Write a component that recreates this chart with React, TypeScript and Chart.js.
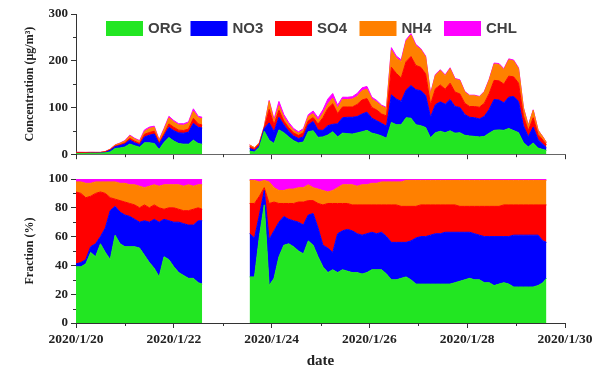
import React, { useEffect, useRef } from 'react';
import { Chart, registerables } from 'chart.js';

Chart.register(...registerables);

// ---- Data (x = days after 2020/1/20) ----
const dayA = [0, 0.1, 0.2, 0.3, 0.4, 0.5, 0.6, 0.7, 0.8, 0.9, 1.0, 1.1, 1.2, 1.3, 1.4, 1.5, 1.6, 1.7, 1.8, 1.9, 2.0, 2.1, 2.2, 2.3, 2.4, 2.5, 2.58];
const dayB = [3.55, 3.65, 3.75, 3.85, 3.95, 4.05, 4.15, 4.25, 4.35, 4.45, 4.55, 4.65, 4.75, 4.85, 4.95, 5.05, 5.15, 5.25, 5.35, 5.45, 5.55, 5.65, 5.75, 5.85, 5.95, 6.05, 6.15, 6.25, 6.35, 6.45, 6.55, 6.65, 6.75, 6.85, 6.95, 7.05, 7.15, 7.25, 7.35, 7.45, 7.55, 7.65, 7.75, 7.85, 7.95, 8.05, 8.15, 8.25, 8.35, 8.45, 8.55, 8.65, 8.75, 8.85, 8.95, 9.05, 9.15, 9.25, 9.35, 9.45, 9.55, 9.62];

// Concentration (ug/m3), first period
const concOrgA = [1.6, 1.6, 1.6, 2.0, 1.8, 2.2, 2.9, 4.8, 12.2, 13.2, 15.4, 21.7, 18.0, 15.1, 24.4, 24.4, 22.8, 9.9, 25.3, 35.6, 28.1, 22.8, 21.5, 21.4, 30.1, 22.7, 21.3];
const concNo3A = [0.1, 0.1, 0.1, 0.2, 0.4, 0.2, 1.0, 3.7, 4.0, 5.3, 6.4, 8.6, 6.5, 5.2, 12.5, 16.2, 20.4, 11.8, 14.3, 21.9, 22.3, 22.8, 23.4, 25.5, 35.9, 34.8, 34.8];
const concSo4A = [2.0, 1.9, 1.7, 1.4, 1.4, 1.2, 1.4, 1.0, 1.0, 1.9, 2.6, 3.7, 3.4, 2.9, 5.7, 5.8, 6.0, 3.1, 3.9, 7.3, 7.2, 5.9, 5.9, 6.9, 10.7, 7.3, 6.3];
const concNh4A = [0.3, 0.3, 0.4, 0.4, 0.3, 0.3, 0.5, 1.2, 2.4, 2.9, 3.8, 5.3, 4.8, 4.4, 6.2, 8.7, 8.4, 4.7, 9.4, 13.0, 11.5, 11.1, 11.1, 12.4, 15.5, 13.0, 13.4];
const concChlA = [0.1, 0.1, 0.1, 0.1, 0.1, 0.1, 0.1, 0.2, 0.4, 0.7, 0.9, 1.6, 1.4, 1.5, 3.1, 2.9, 2.4, 1.6, 2.2, 3.2, 2.9, 2.6, 3.3, 2.8, 4.9, 3.2, 3.2];

// Concentration (ug/m3), second period
const concOrgB = [6.4, 4.5, 15, 49, 30, 23, 52, 46, 37, 29, 24, 26, 48, 50, 36, 37, 41, 48, 37, 45, 44, 43, 45.5, 48, 51, 45, 42.5, 39, 34, 68, 63, 63, 78, 77, 63, 61, 57, 35, 46, 49, 46, 50, 45, 46, 40.5, 39, 38, 37, 38, 45, 51, 52, 51, 55, 50.5, 46, 25, 15.5, 24, 13, 10, 8];
const concNo3B = [6, 3.8, 3.8, 6, 37, 25, 27, 17, 12, 10, 9.6, 11, 15, 20, 15.6, 14, 20, 16, 28, 33, 35, 36, 35, 38, 39, 32, 29, 27, 26, 59, 55, 50, 59, 70, 75, 75, 69, 44, 60, 63, 61, 67, 57, 54, 44.5, 40, 40, 38.5, 43, 51, 66, 64, 59, 67, 73, 67, 36, 22, 34, 18, 11, 6];
const concSo4B = [4.2, 3.4, 3.3, 1.2, 29, 15, 15, 8, 7.5, 6.5, 6.7, 8.8, 8.5, 8.4, 13, 27, 37, 44, 22, 23, 22, 22, 26, 30, 29, 23, 23, 20, 22, 59, 55, 50, 61, 62, 52, 50, 46, 27, 34, 36, 32, 35, 31, 29, 24, 23, 24, 25, 28, 34, 41, 41, 40, 45, 42, 39, 21, 13, 20, 11, 9, 6.5];
const concNh4B = [3.2, 2.2, 2.5, 3, 17, 7.5, 10, 8, 7, 5.5, 4.8, 5.5, 9.5, 8.4, 7.8, 9.5, 9.4, 12, 11.5, 16, 16, 17, 17, 20, 20, 18, 17, 17, 16, 37, 33, 35, 44, 46, 42, 38, 36, 22, 29, 31, 29, 31, 27.5, 28.6, 24, 23, 23, 22, 24, 29, 35, 35, 31, 35, 34, 31, 17, 10.5, 16, 9, 6.5, 4.4];
const concChlB = [0.2, 0.1, 0.5, 0.6, 2, 4.5, 9, 6, 4.5, 4, 2.9, 3.3, 3.4, 5.6, 5.5, 7.5, 10.6, 10, 6.5, 5, 4.8, 5, 6.5, 6, 6, 4, 3.5, 2, 2, 5, 4, 4, 3, 3, 3, 2, 2, 2, 1.7, 1.8, 1.7, 1.9, 1.6, 1.6, 1.4, 1.3, 1.3, 1.2, 1.4, 1.6, 2, 2, 2, 2, 2, 2, 1, 0.6, 1, 0.5, 0.4, 0.3];

// Fraction (%), first period
const fracOrgA = [39, 39, 41, 49, 46, 55, 49, 44, 61, 55, 53, 53, 53, 52, 47, 42, 38, 32, 46, 44, 39, 35, 33, 31, 31, 28, 27];
const fracNo3A = [2, 3, 3, 4, 9, 5, 17, 34, 20, 22, 22, 21, 19, 18, 24, 28, 34, 38, 26, 27, 31, 35, 36, 37, 37, 43, 44];
const fracSo4A = [50, 48, 43, 35, 35, 31, 24, 9, 5, 8, 9, 9, 10, 10, 11, 10, 10, 10, 7, 9, 10, 9, 9, 10, 11, 9, 8];
const fracNh4A = [7, 8, 10, 9, 8, 7, 8, 11, 12, 12, 13, 13, 14, 15, 12, 15, 14, 15, 17, 16, 16, 17, 17, 18, 16, 16, 17];
const fracChlA = [2, 2, 3, 3, 2, 2, 2, 2, 2, 3, 3, 4, 4, 5, 6, 5, 4, 5, 4, 4, 4, 4, 5, 4, 5, 4, 4];

// Fraction (%), second period
const fracOrgB = [32, 32, 60, 82, 26, 31, 46, 54, 55, 53, 50, 48, 57, 54, 46, 39, 35, 37, 35, 37, 36, 35, 35, 34, 35, 37, 37, 37, 34, 30, 30, 31, 32, 30, 27, 27, 27, 27, 27, 27, 27, 27, 28, 29, 30, 31, 30, 30, 28, 28, 26, 27, 28, 27, 25, 25, 25, 25, 25, 26, 28, 31];
const fracNo3B = [30, 27, 15, 10, 32, 33, 24, 20, 17, 18, 20, 20, 18, 22, 20, 15, 17, 12, 27, 27, 29, 29, 27, 27, 27, 26, 25, 26, 26, 26, 26, 25, 24, 27, 32, 33, 33, 34, 35, 35, 36, 36, 35, 34, 33, 32, 32, 31, 32, 32, 34, 33, 32, 33, 36, 36, 36, 36, 36, 35, 29, 25];
const fracSo4B = [21, 24, 13, 2, 25, 20, 13, 9, 11, 12, 14, 16, 10, 9, 17, 28, 31, 34, 21, 19, 18, 18, 20, 21, 20, 19, 20, 19, 22, 26, 26, 25, 25, 24, 22, 22, 22, 21, 20, 20, 19, 19, 19, 18, 18, 18, 19, 20, 21, 21, 21, 21, 22, 22, 21, 21, 21, 21, 21, 21, 25, 26];
const fracNh4B = [16, 16, 10, 5, 15, 10, 9, 9, 10, 10, 10, 10, 11, 9, 10, 10, 8, 9, 11, 13, 13, 14, 13, 14, 14, 15, 15, 16, 16, 16, 16, 17, 18, 18, 18, 17, 17, 17, 17, 17, 17, 17, 17, 18, 18, 18, 18, 18, 18, 18, 18, 18, 17, 17, 17, 17, 17, 17, 17, 17, 17, 17];
const fracChlB = [1, 1, 2, 1, 2, 6, 8, 8, 7, 7, 6, 6, 4, 6, 7, 8, 9, 8, 6, 4, 4, 4, 5, 4, 4, 3, 3, 2, 2, 2, 2, 2, 1, 1, 1, 1, 1, 1, 1, 1, 1, 1, 1, 1, 1, 1, 1, 1, 1, 1, 1, 1, 1, 1, 1, 1, 1, 1, 1, 1, 1, 1];

const seriesNames = ['ORG', 'NO3', 'SO4', 'NH4', 'CHL'];
const seriesColors = ['#22e622', '#0000ff', '#ff0000', '#ff8000', '#ff00ff'];
const concTicks = [0, 100, 200, 300];
const concMinor = [50, 150, 250];
const fracTicks = [0, 20, 40, 60, 80, 100];
const fracMinor = [10, 30, 50, 70, 90];
const dayMajor = [0, 2, 4, 6, 8, 10];
const dayMinor = [1, 3, 5, 7, 9];

const SERIF = '"Liberation Serif", "Times New Roman", serif';
const AXIS_COLOR = '#333';

function buildDatasets(partsA: number[][], partsB: number[][]) {
  const out: any[] = [];
  const periods: [string, number[], number[][]][] = [
    ['A', dayA, partsA],
    ['B', dayB, partsB],
  ];
  periods.forEach(([stack, days, parts]) => {
    parts.forEach((vals, i) => {
      out.push({
        label: seriesNames[i],
        stack,
        data: days.map((d, k) => ({ x: d, y: vals[k] })),
        backgroundColor: seriesColors[i],
        borderColor: seriesColors[i],
        borderWidth: 1,
        fill: 'stack',
        pointRadius: 0,
        tension: 0,
      });
    });
  });
  return out;
}

const minorTicksPlugin = {
  id: 'minorTicks',
  afterDraw(chart: any, _args: any, opts: any) {
    const { ctx, chartArea } = chart;
    const xs = chart.scales.x;
    const ys = chart.scales.y;
    ctx.save();
    ctx.strokeStyle = AXIS_COLOR;
    ctx.lineWidth = 1;
    ctx.beginPath();
    (opts.x || []).forEach((v: number) => {
      const px = Math.round(xs.getPixelForValue(v)) + 0.5;
      ctx.moveTo(px, chartArea.bottom);
      ctx.lineTo(px, chartArea.bottom + 3);
    });
    (opts.y || []).forEach((v: number) => {
      const py = Math.round(ys.getPixelForValue(v)) + 0.5;
      ctx.moveTo(chartArea.left - 3, py);
      ctx.lineTo(chartArea.left, py);
    });
    ctx.stroke();
    ctx.restore();
  },
};

const legendPlugin = {
  id: 'insideLegend',
  afterDraw(chart: any, _args: any, opts: any) {
    if (!opts || !opts.show) return;
    const { ctx, chartArea } = chart;
    ctx.save();
    ctx.font = 'bold 15px "Liberation Sans", Arial, sans-serif';
    ctx.textBaseline = 'middle';
    ctx.textAlign = 'left';
    let x = chartArea.left + 30;
    const y = chartArea.top + 7;
    seriesNames.forEach((name, i) => {
      ctx.fillStyle = seriesColors[i];
      ctx.fillRect(x, y, 37, 15);
      ctx.fillStyle = '#404040';
      ctx.fillText(name, x + 42, y + 8);
      x += 84.5;
    });
    ctx.restore();
  },
};

function makeConfig(kind: 'conc' | 'frac'): any {
  const isConc = kind === 'conc';
  const datasets = isConc
    ? buildDatasets(
        [concOrgA, concNo3A, concSo4A, concNh4A, concChlA],
        [concOrgB, concNo3B, concSo4B, concNh4B, concChlB]
      )
    : buildDatasets(
        [fracOrgA, fracNo3A, fracSo4A, fracNh4A, fracChlA],
        [fracOrgB, fracNo3B, fracSo4B, fracNh4B, fracChlB]
      );
  const yTicks = isConc ? concTicks : fracTicks;
  return {
    type: 'line',
    data: { datasets },
    options: {
      animation: false,
      responsive: false,
      devicePixelRatio: 1,
      events: [],
      layout: { padding: { left: 0, right: 35, top: 14, bottom: 0 } },
      plugins: {
        legend: { display: false },
        tooltip: { enabled: false },
        minorTicks: { x: dayMinor, y: isConc ? concMinor : fracMinor },
        insideLegend: { show: isConc },
      },
      scales: {
        x: {
          type: 'linear',
          min: 0,
          max: 10,
          afterBuildTicks: (scale: any) => {
            scale.ticks = dayMajor.map((v) => ({ value: v }));
          },
          afterFit: (scale: any) => {
            scale.height = isConc ? 7 : 47;
          },
          ticks: {
            autoSkip: false,
            maxRotation: 0,
            padding: 3,
            color: '#222',
            font: { family: SERIF, size: 13.5, weight: 'bold' },
            callback: (v: number) => (isConc ? '' : '2020/1/' + (20 + v)),
          },
          grid: { drawOnChartArea: false, tickLength: 5, color: AXIS_COLOR },
          border: { display: true, color: isConc ? '#666' : AXIS_COLOR, width: 1 },
          title: {
            display: !isConc,
            text: 'date',
            color: '#222',
            font: { family: SERIF, size: 15, weight: 'bold' },
            padding: { top: 0, bottom: 0 },
          },
        },
        y: {
          type: 'linear',
          stacked: true,
          min: 0,
          max: isConc ? 300 : 100,
          afterBuildTicks: (scale: any) => {
            scale.ticks = yTicks.map((v) => ({ value: v }));
          },
          afterFit: (scale: any) => {
            scale.width = 76;
          },
          ticks: {
            padding: 3,
            color: '#222',
            font: { family: SERIF, size: 13, weight: 'bold' },
          },
          grid: { drawOnChartArea: false, tickLength: 5, color: AXIS_COLOR },
          border: { display: true, color: AXIS_COLOR, width: 1 },
          title: {
            display: true,
            text: isConc ? 'Concentration (\u03bcg/m\u00b3)' : 'Fraction (%)',
            color: '#222',
            font: { family: SERIF, size: 12, weight: 'bold' },
            padding: { top: 23, bottom: 0 },
          },
        },
      },
    },
    plugins: [minorTicksPlugin, legendPlugin],
  };
}

function Panel({ kind, top, height }: { kind: 'conc' | 'frac'; top: number; height: number }) {
  const ref = useRef<HTMLCanvasElement | null>(null);
  useEffect(() => {
    if (!ref.current) return;
    const chart = new Chart(ref.current, makeConfig(kind));
    return () => chart.destroy();
  }, [kind]);
  return (
    <canvas
      ref={ref}
      width={600}
      height={height}
      style={{ position: 'absolute', left: 0, top, width: 600, height }}
    />
  );
}

export default function App() {
  return (
    <div style={{ position: 'absolute', left: 0, top: 0, width: 600, height: 370, background: '#fff', overflow: 'hidden' }}>
      <Panel kind="conc" top={0} height={165} />
      <Panel kind="frac" top={165} height={205} />
    </div>
  );
}
